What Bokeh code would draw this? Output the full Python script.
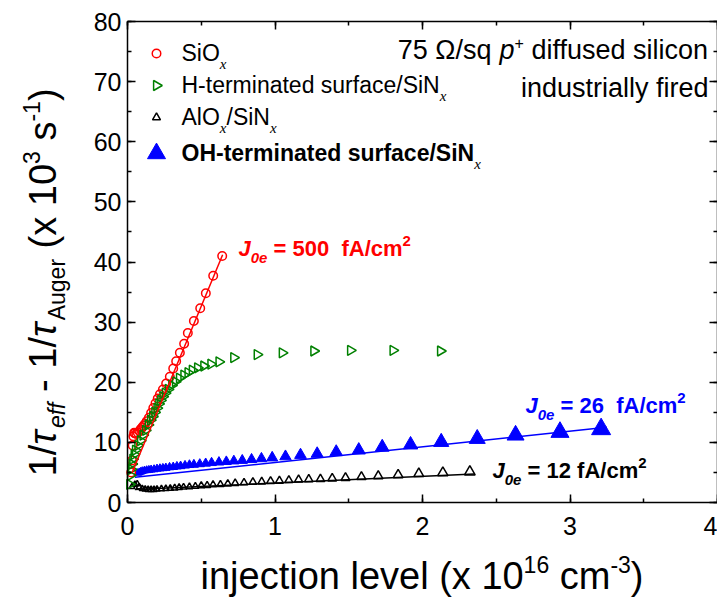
import math
from bokeh.plotting import figure
from bokeh.models import Label, LinearAxis, SingleIntervalTicker, Range1d
from bokeh.embed import file_html
from bokeh.resources import INLINE

# ---- measured data: injection level (1e16 cm^-3) vs 1/tau_eff - 1/tau_Auger (1e3 s^-1) ----
sio_x = [0.025, 0.03, 0.035, 0.04, 0.045, 0.05, 0.06, 0.07, 0.08, 0.09, 0.10, 0.11,
         0.12, 0.13, 0.145, 0.16, 0.175, 0.19, 0.205, 0.22, 0.24, 0.262, 0.287, 0.31,
         0.33, 0.355, 0.384, 0.409, 0.45, 0.493, 0.531, 0.581, 0.642]
sio_y = [5.0, 7.0, 9.5, 11.0, 11.6, 11.5, 11.4, 11.6, 11.9, 12.2, 12.5, 12.8,
         13.1, 13.5, 14.1, 14.9, 15.7, 16.5, 17.3, 18.0, 18.8, 19.8, 20.9, 22.3,
         23.5, 24.9, 26.4, 28.2, 30.2, 32.3, 34.8, 37.7, 41.0]

hterm_x = [0.015, 0.02, 0.025, 0.03, 0.036, 0.045, 0.054, 0.07, 0.088, 0.105, 0.122,
           0.14, 0.156, 0.17, 0.185, 0.2, 0.212, 0.225, 0.24, 0.256, 0.276, 0.3, 0.325,
           0.352, 0.382, 0.41, 0.439, 0.475, 0.517, 0.565, 0.62, 0.72, 0.879, 1.049,
           1.263, 1.512, 1.80, 2.122]
hterm_y = [3.0, 4.5, 5.5, 6.4, 7.2, 8.0, 8.7, 9.5, 10.3, 11.2, 12.0,
           12.9, 13.7, 14.3, 15.0, 15.7, 16.4, 17.0, 17.6, 18.2, 18.8, 19.5, 20.1,
           20.7, 21.2, 21.6, 22.0, 22.4, 22.7, 23.0, 23.4, 24.1, 24.6, 24.9,
           25.2, 25.3, 25.3, 25.2]

alo_x = [0.03, 0.05, 0.066, 0.08, 0.1, 0.12, 0.14, 0.16, 0.18, 0.2, 0.23, 0.26, 0.29,
         0.32, 0.35, 0.38, 0.42, 0.46, 0.5, 0.54, 0.58, 0.63, 0.68, 0.73, 0.79, 0.85,
         0.91, 0.97, 1.03, 1.094, 1.16, 1.229, 1.308, 1.388, 1.478, 1.586, 1.7, 1.835,
         1.975, 2.138, 2.321]
alo_y = [2.6, 3.0, 3.1, 2.6, 2.3, 2.2, 2.15, 2.15, 2.15, 2.2, 2.25, 2.3, 2.35,
         2.4, 2.5, 2.55, 2.6, 2.7, 2.8, 2.85, 2.95, 3.0, 3.1, 3.2, 3.3, 3.4,
         3.45, 3.55, 3.6, 3.7, 3.8, 3.85, 3.9, 4.0, 4.1, 4.25, 4.4, 4.6,
         4.8, 4.95, 5.1]

ohterm_x = [0.07, 0.08, 0.09, 0.1, 0.115, 0.13, 0.145, 0.16, 0.18, 0.2, 0.22, 0.24,
            0.26, 0.285, 0.31, 0.335, 0.36, 0.39, 0.42, 0.45, 0.49, 0.53, 0.57, 0.62,
            0.67, 0.721, 0.778, 0.841, 0.908, 0.981, 1.071, 1.173, 1.286, 1.415,
            1.568, 1.727, 1.919, 2.127, 2.371, 2.631, 2.932, 3.211]
ohterm_y = [4.9, 5.0, 5.1, 5.2, 5.3, 5.35, 5.4, 5.45, 5.5, 5.6, 5.65, 5.7,
            5.75, 5.85, 5.9, 6.0, 6.05, 6.15, 6.25, 6.3, 6.4, 6.5, 6.6, 6.7,
            6.8, 6.9, 7.0, 7.15, 7.3, 7.45, 7.65, 7.9, 8.1, 8.4,
            8.7, 9.2, 9.6, 10.05, 10.6, 11.2, 11.7, 12.2]

# linear J0e fits (end points)
sio_fit_x = [0.03, 0.645]
sio_fit_y = [4.9, 41.2]
ohterm_fit_x = [0.05, 3.25]
ohterm_fit_y = [4.2, 12.5]
alo_fit_x = [0.05, 2.35]
alo_fit_y = [2.15, 4.75]

x_axis_bounds = (0, 4)
y_axis_bounds = (0, 80)
x_ticks_interval = 1
y_ticks_interval = 10

# ---- layout: the frame spans the whole canvas, the axes sit at fixed positions ----
W, H = 717, 606
L, R, T, B = 127, 717, 21, 502
X0, X1 = x_axis_bounds
Y0, Y1 = y_axis_bounds

RED, GREEN, BLACK, BLUE = "#FF0000", "#008000", "#000000", "#0000FF"
SANS = "Liberation Sans"
SERIF = "Liberation Serif"


def dx(px):
    return X0 + (px - L) * (X1 - X0) / (R - L)


def dy(py):
    return Y0 + (B - py) * (Y1 - Y0) / (B - T)


# approximate advance widths (per em) of the sans face
_REG = {' ': .278, '(': .333, ')': .333, '-': .333, '/': .278, '=': .584, '+': .584,
        'A': .667, 'H': .722, 'N': .722, 'O': .778, 'S': .667, 'J': .5,
        'a': .556, 'c': .5, 'd': .556, 'e': .556, 'f': .278, 'g': .556, 'i': .222,
        'j': .222, 'l': .222, 'm': .833, 'n': .556, 'o': .556, 'p': .556, 'q': .556,
        'r': .333, 's': .5, 't': .278, 'u': .556, 'v': .5, 'x': .5, 'y': .5,
        '\u03a9': .768, '\u03c4': .44}
_BOLD = {' ': .278, '=': .584, '/': .278, '-': .333, 'A': .722, 'H': .722, 'J': .556,
         'N': .722, 'O': .778, 'S': .667, 'a': .556, 'c': .556, 'd': .611, 'e': .556,
         'f': .333, 'i': .278, 'm': .889, 'n': .611, 'r': .389, 's': .556, 't': .333,
         'u': .611}


def text_width(s, size, style="normal", font=SANS):
    if font == SERIF:
        return sum(.444 if ch == 'x' else .5 for ch in s) * size
    table = _BOLD if "bold" in style else _REG
    return sum(.556 if ch.isdigit() else table.get(ch, .55) for ch in s) * size


def rich(p, x_px, y_px, parts, angle=0.0, color=BLACK):
    """Lay out text runs one after another along a baseline that starts at
    (x_px, y_px) in canvas pixels.  parts: (text, size_px, style, raise_px[, font])"""
    acc = 0.0
    for part in parts:
        txt, size, style, shift = part[:4]
        font = part[4] if len(part) > 4 else SANS
        up = shift + 0.35 * size          # middle of the em box above the baseline
        if angle:
            xo, yo = -up, acc
        else:
            xo, yo = acc, up
        p.add_layout(Label(x=dx(x_px), y=dy(y_px), x_units="data", y_units="data",
                           x_offset=xo, y_offset=yo, text=txt.replace(" ", "\u00a0"),
                           angle=angle, text_font=font, text_font_size=f"{size}px",
                           text_font_style=style, text_color=color,
                           text_align="left", text_baseline="middle"))
        acc += text_width(txt, size, style, font)
    return acc


p = figure(width=W, height=H,
           x_range=Range1d(dx(0), dx(W)), y_range=Range1d(dy(H), dy(0)),
           x_axis_type=None, y_axis_type=None,
           output_backend="svg", toolbar_location=None, min_border=0)
p.background_fill_color = "white"
p.border_fill_color = "white"
p.outline_line_color = None
p.xgrid.visible = False
p.ygrid.visible = False


def make_axis(ticker, loc, bounds, labels=True, standoff=8):
    ax = LinearAxis(ticker=ticker, fixed_location=loc, bounds=bounds)
    ax.axis_line_color = "black"
    ax.axis_line_width = 1.5
    ax.major_tick_line_color = "black"
    ax.major_tick_line_width = 1.5
    ax.minor_tick_line_color = "black"
    ax.minor_tick_line_width = 1.5
    ax.major_tick_in = 8
    ax.major_tick_out = 0
    ax.minor_tick_in = 4
    ax.minor_tick_out = 0
    if labels:
        ax.major_label_text_font = SANS
        ax.major_label_text_font_size = "25px"
        ax.major_label_text_color = "black"
        ax.major_label_standoff = standoff
    else:
        ax.major_label_text_color = None
    return ax


def xt():
    return SingleIntervalTicker(interval=x_ticks_interval, num_minor_ticks=2)


def yt():
    return SingleIntervalTicker(interval=y_ticks_interval, num_minor_ticks=2)


p.add_layout(make_axis(xt(), Y0, x_axis_bounds, standoff=14), "below")
p.add_layout(make_axis(yt(), X0, y_axis_bounds, standoff=6), "left")
p.add_layout(make_axis(xt(), Y1, x_axis_bounds, labels=False), "above")
p.add_layout(make_axis(yt(), X1, y_axis_bounds, labels=False), "right")

# ---- series ----
p.line(alo_fit_x, alo_fit_y, line_color=BLACK, line_width=1.5)
p.scatter(alo_x, alo_y, marker="triangle", size=[6 + 2.0 * v for v in alo_x],
          fill_color=None, line_color=BLACK, line_width=1.5)

p.line(ohterm_fit_x, ohterm_fit_y, line_color=BLUE, line_width=1.5)
p.scatter(ohterm_x, ohterm_y, marker="triangle", size=[7.5 + 3.6 * v for v in ohterm_x],
          fill_color=BLUE, line_color=BLUE, line_width=1)

p.scatter(sio_x, sio_y, marker="circle", size=8.5, fill_color=None,
          line_color=RED, line_width=1.5)
p.scatter(hterm_x, hterm_y, marker="triangle", size=10, angle=-math.pi / 2,
          fill_color=None, line_color=GREEN, line_width=1.5)
p.line(sio_fit_x, sio_fit_y, line_color=RED, line_width=1.5)

# ---- legend ----
LEG_X, LEG_TX = 156, 181
leg_rows = [53, 85, 117, 153]
p.scatter([dx(LEG_X)], [dy(leg_rows[0])], marker="circle", size=8.5, fill_color=None,
          line_color=RED, line_width=1.5)
p.scatter([dx(LEG_X)], [dy(leg_rows[1])], marker="triangle", size=10, angle=-math.pi / 2,
          fill_color=None, line_color=GREEN, line_width=1.5)
p.scatter([dx(LEG_X)], [dy(leg_rows[2])], marker="triangle", size=8, fill_color=None,
          line_color=BLACK, line_width=1.5)
p.scatter([dx(LEG_X)], [dy(leg_rows[3])], marker="triangle", size=18, fill_color=BLUE,
          line_color=BLUE)

LF = 23
SUB = ("x", 15, "italic", -8, SERIF)
rich(p, LEG_TX, leg_rows[0] + 8, [("SiO", LF, "normal", 0), SUB])
rich(p, LEG_TX, leg_rows[1] + 8, [("H-terminated surface/SiN", LF, "normal", 0), SUB])
rich(p, LEG_TX, leg_rows[2] + 8, [("AlO", LF, "normal", 0), SUB,
                                  ("/SiN", LF, "normal", 0), SUB])
rich(p, LEG_TX, leg_rows[3] + 8, [("OH-terminated surface/SiN", LF, "bold", 0), SUB])

# ---- sample description (right aligned) ----
AF = 27
line1 = [("75 \u03a9/sq ", AF, "normal", 0), ("p", AF, "italic", 0), ("+", 16, "normal", 11),
         (" diffused silicon", AF, "normal", 0)]
w1 = sum(text_width(t, s, st) for t, s, st, _ in line1)
rich(p, 708 - w1, 59, line1)
w2 = text_width("industrially fired", AF)
rich(p, 708 - w2, 97, [("industrially fired", AF, "normal", 0)])

# ---- J0e annotations ----
JF = 22


def j0e(x_px, y_px, val, color):
    rich(p, x_px, y_px, [("J", JF, "bold italic", 0), ("0e", 15, "bold italic", -7),
                         (f" = {val} fA/cm", JF, "bold", 0), ("2", 15, "bold", 10)],
         color=color)


j0e(238, 256, "500 ", RED)
j0e(525, 413, "26 ", BLUE)
j0e(492, 478, "12", BLACK)

# ---- axis titles ----
TF = 38
SF = 23
rich(p, 200, 589, [("injection level (x 10", TF, "normal", 0), ("16", SF, "normal", 17),
                   (" cm", TF, "normal", 0), ("-3", SF, "normal", 17), (")", TF, "normal", 0)])

rich(p, 56, 476, [("1/", TF, "normal", 0), ("\u03c4", TF, "italic", 0),
                  ("eff", SF, "italic", -9), (" - 1/", TF, "normal", 0),
                  ("\u03c4", TF, "italic", 0), ("Auger", SF, "normal", -9),
                  (" (x 10", TF, "normal", 0), ("3", SF, "normal", 17),
                  (" s", TF, "normal", 0), ("-1", SF, "normal", 17),
                  (")", TF, "normal", 0)], angle=math.pi / 2)

open("out.html", "w").write(file_html(p, INLINE))
